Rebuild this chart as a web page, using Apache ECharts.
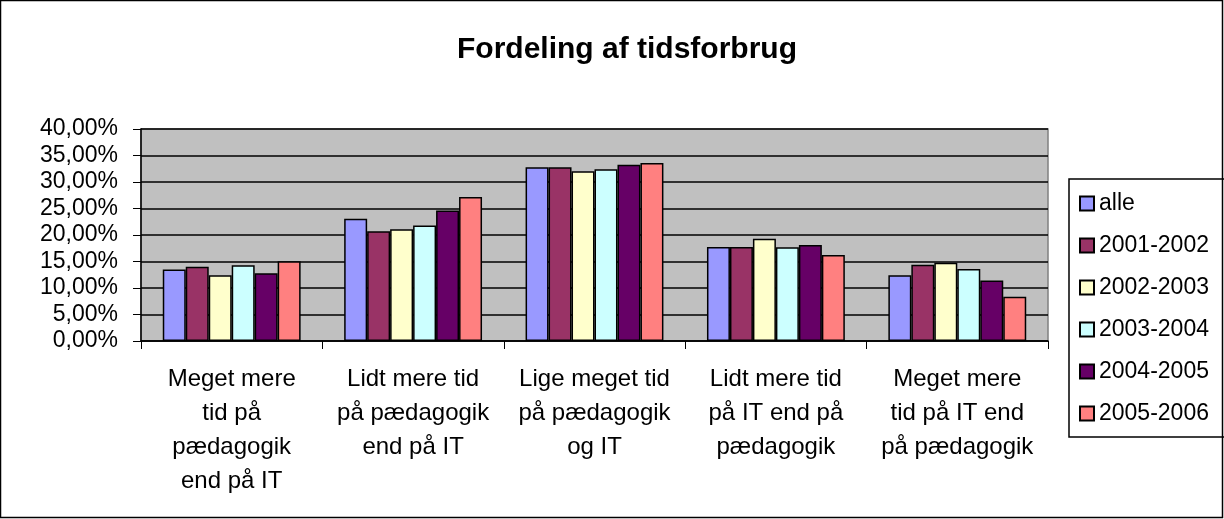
<!DOCTYPE html>
<html><head><meta charset="utf-8">
<script src="https://cdn.jsdelivr.net/npm/echarts@6/dist/echarts.min.js"></script>
<style>html,body{margin:0;padding:0;background:#fff}#c{width:1224px;height:519px}</style>
</head><body><div id="c"></div>
<script>
const title = 'Fordeling af tidsforbrug';
const categories = ['Meget mere\ntid på\npædagogik\nend på IT','Lidt mere tid\npå pædagogik\nend på IT','Lige meget tid\npå pædagogik\nog IT','Lidt mere tid\npå IT end på\npædagogik','Meget mere\ntid på IT end\npå pædagogik'];
const seriesNames = ['alle','2001-2002','2002-2003','2003-2004','2004-2005','2005-2006'];
const alle = [13.5, 23.05, 32.8, 17.75, 12.4];
const y2001 = [14.0, 20.7, 32.8, 17.75, 14.4];
const y2002 = [12.4, 21.1, 32.05, 19.3, 14.75];
const y2003 = [14.3, 21.8, 32.4, 17.7, 13.6];
const y2004 = [12.8, 24.6, 33.25, 18.1, 11.4];
const y2005 = [15.05, 27.15, 33.6, 16.25, 8.35];
const colors = ['#9999FF','#993366','#FFFFCC','#CCFFFF','#660066','#FF8080'];
const values = [alle, y2001, y2002, y2003, y2004, y2005];
const font = 'Arial, "Liberation Sans", sans-serif';
const chart = echarts.init(document.getElementById('c'));
chart.setOption({
  animation:false,
  backgroundColor:'#fff',
  title:{text:title,left:622,top:30,textAlign:'center',textStyle:{fontFamily:font,fontSize:30,fontWeight:'bold',color:'#000'}},
  grid:{left:141,right:176,top:129,bottom:178,show:true,backgroundColor:'#C0C0C0',borderColor:'#808080',borderWidth:1.5},
  legend:{orient:'vertical',left:1069,top:179,itemWidth:14,itemHeight:14,itemGap:19,itemTextGap:9,
    padding:[13,80,12,10],borderColor:'#000',borderWidth:1.5,backgroundColor:'#fff',
    textStyle:{fontFamily:font,fontSize:23,color:'#000'},
    data:seriesNames.map(n=>({name:n,icon:'rect'}))},
  xAxis:{type:'category',data:categories,
    axisLine:{lineStyle:{color:'#000',width:1.5}},
    axisTick:{show:true,length:8,lineStyle:{color:'#000'},alignWithLabel:false},
    axisLabel:{fontFamily:font,fontSize:24,color:'#000',lineHeight:34,margin:21,interval:0}},
  yAxis:{type:'value',min:0,max:40,interval:5,
    axisLine:{show:true,lineStyle:{color:'#000',width:1.5}},
    axisTick:{show:true,length:8,lineStyle:{color:'#000'}},
    splitLine:{lineStyle:{color:'#000',width:1.5}},
    axisLabel:{fontFamily:font,fontSize:23,color:'#000',margin:23,
      formatter:v=>v.toFixed(2).replace('.',',')+'%'}},
  series:seriesNames.map((n,i)=>({name:n,type:'bar',data:values[i],barGap:'0%',barCategoryGap:'24%',
    itemStyle:{color:colors[i],borderColor:'#000',borderWidth:1.5}})),
  graphic:[{type:'rect',shape:{x:0.5,y:0.5,width:1222,height:517},style:{fill:null,stroke:'#000',lineWidth:1.5},z:100}]
});
</script></body></html>
